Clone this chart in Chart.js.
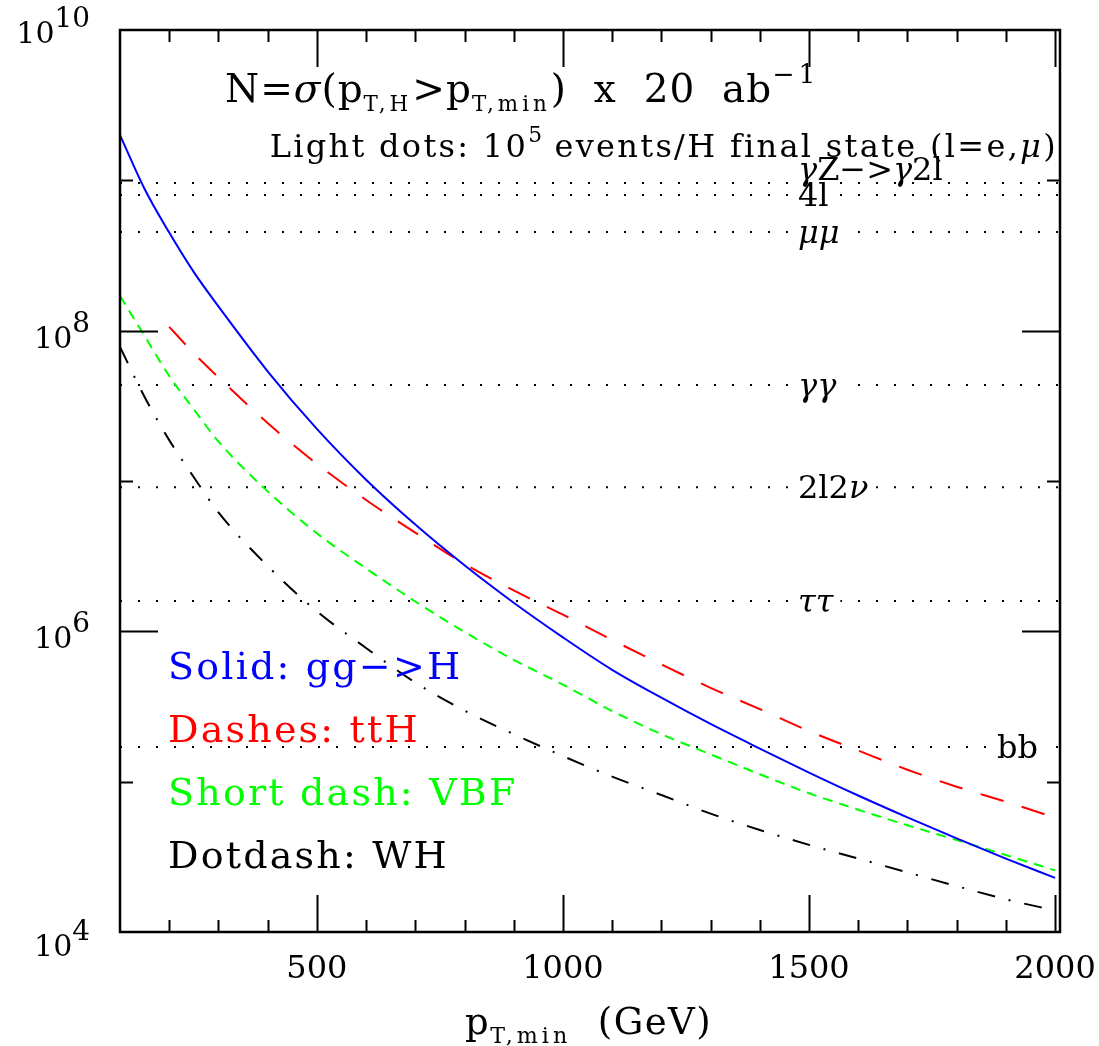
<!DOCTYPE html>
<html>
<head>
<meta charset="utf-8">
<title>Higgs pT,min event counts</title>
<script src="https://cdn.jsdelivr.net/npm/chart.js@4.4.1/dist/chart.umd.min.js"></script>
<style>
  html, body { margin: 0; padding: 0; background: #fff; }
  canvas { display: block; }
</style>
</head>
<body>
<canvas id="chart" width="1099" height="1046"></canvas>
<script>
// pT,min grid (GeV)
const ptMin = [100, 150, 200, 250, 300, 400, 500, 600, 700, 800, 900, 1000,
               1100, 1200, 1300, 1400, 1500, 1600, 1700, 1800, 1900, 2000];

// N = sigma(pT,H > pT,min) x 20 ab^-1
const ggH = [2.00e9, 8.75e8, 4.49e8, 2.45e8, 1.45e8, 5.37e7, 2.22e7, 1.02e7, 5.13e6, 2.75e6, 1.55e6,
             9.12e5, 5.55e5, 3.62e5, 2.42e5, 1.66e5, 1.15e5, 8.09e4, 5.79e4, 4.20e4, 3.08e4, 2.29e4];
const ttH = [null, null, 1.06e8, 7.07e7, 4.89e7, 2.43e7, 1.30e7, 7.48e6, 4.53e6, 2.81e6, 1.87e6,
             1.29e6, 8.76e5, 6.03e5, 4.21e5, 3.04e5, 2.17e5, 1.61e5, 1.20e5, 9.26e4, 7.35e4, 5.76e4];
const vbf = [1.70e8, 9.22e7, 5.00e7, 3.00e7, 1.83e7, 8.53e6, 4.49e6, 2.62e6, 1.58e6, 9.90e5, 6.47e5,
             4.42e5, 2.95e5, 2.07e5, 1.52e5, 1.12e5, 8.38e4, 6.51e4, 5.13e4, 4.09e4, 3.25e4, 2.57e4];
const wh  = [7.79e7, 3.62e7, 1.87e7, 1.06e7, 6.18e6, 2.72e6, 1.36e6, 7.75e5, 4.57e5, 2.97e5, 2.07e5,
             1.48e5, 1.08e5, 8.15e4, 6.13e4, 4.77e4, 3.80e4, 3.08e4, 2.49e4, 2.02e4, 1.65e4, 1.39e4];

// 10^5 events / BR for each final state
const levelNames  = ['γZ−>γ2l', '4l', 'μμ', 'γγ', '2l2ν', 'ττ', 'bb'];
const levelValues = [9.6e8, 8.0e8, 4.53e8, 4.35e7, 9.1e6, 1.59e6, 1.70e5];

const xTicks = [500, 1000, 1500, 2000];
const yTickExps = [4, 6, 8, 10];

const legendLines = ['Solid: gg−>H', 'Dashes: ttH', 'Short dash: VBF', 'Dotdash: WH'];
const legendColors = ['#0000ff', '#ff0000', '#00ff00', '#000000'];

const SERIF = '"DejaVu Serif", "Liberation Serif", serif';

// split plain text into roman / italic-greek runs
const expand = (parts) => {
    const out = [];
    parts.forEach(([t, kind]) => {
        if (kind === 'sub' || kind === 'sup') { out.push([t, kind]); return; }
        let cur = '', curIt = null;
        for (const ch of t) {
            const it = /[\u0370-\u03ff]/.test(ch);
            if (curIt !== null && it !== curIt) { out.push([cur, curIt ? 'i' : 'r']); cur = ''; }
            cur += ch; curIt = it;
        }
        if (cur) out.push([cur, curIt ? 'i' : 'r']);
    });
    return out;
};

const drawRich = (ctx, parts, x, y, size, color, opts = {}) => {
    const subScale = opts.subScale || 0.68, supScale = opts.supScale || 0.68;
    const supRise = opts.supRise != null ? opts.supRise : size * 0.45;
    const subDrop = opts.subDrop != null ? opts.subDrop : size * 0.28;
    const spacing = opts.spacing || 0;
    const subSpacing = opts.subSpacing != null ? opts.subSpacing : spacing;
    const segs = expand(parts).map(([t, kind]) => {
        let font, dy = 0, sp = spacing;
        if (kind === 'sub') { font = `${size * subScale}px ${SERIF}`; dy = subDrop; sp = subSpacing; }
        else if (kind === 'sup') { font = `${size * supScale}px ${SERIF}`; dy = -supRise; sp = subSpacing; }
        else if (kind === 'i') font = `italic ${size}px ${SERIF}`;
        else font = `${size}px ${SERIF}`;
        return { t, font, dy, sp };
    });
    ctx.save();
    let total = 0;
    segs.forEach(s => {
        ctx.font = s.font; ctx.letterSpacing = s.sp + 'px';
        s.w = ctx.measureText(s.t).width; total += s.w;
    });
    let cx = x;
    if (opts.align === 'right') cx = x - total;
    else if (opts.align === 'center') cx = x - total / 2;
    ctx.fillStyle = color;
    ctx.textBaseline = 'alphabetic';
    ctx.textAlign = 'left';
    segs.forEach(s => {
        ctx.font = s.font; ctx.letterSpacing = s.sp + 'px';
        ctx.fillText(s.t, cx, y + s.dy); cx += s.w;
    });
    ctx.restore();
    return total;
};

const decorations = {
    id: 'decorations',
    afterDatasetsDraw(chart) {
        const { ctx, chartArea: a, scales: { x, y } } = chart;
        ctx.save();

        // final-state labels on the dotted lines, with a white gap behind them
        const labelSize = 32;
        const boxes = levelNames.map((name, i) => {
            const py = y.getPixelForValue(levelValues[i]);
            const lx = name === 'bb' ? 997 : 798;
            const dy = i === 0 ? -3 : 11;
            return { name, py, lx, dy };
        });
        ctx.font = `${labelSize}px ${SERIF}`;
        boxes.forEach((b, i) => {
            if (i === 0) return;
            const w = ctx.measureText(b.name).width;
            ctx.fillStyle = '#fff';
            ctx.fillRect(b.lx - 7, b.py - 4, w + 14, 8);
        });
        boxes.forEach(b => drawRich(ctx, [[b.name, 'r']], b.lx, b.py + b.dy, labelSize, '#000'));

        // frame
        ctx.strokeStyle = '#000';
        ctx.lineWidth = 2.5;
        ctx.strokeRect(a.left, a.top, a.right - a.left, a.bottom - a.top);

        // x ticks (bottom and top)
        ctx.lineWidth = 2;
        for (let v = 200; v <= 2000; v += 100) {
            const px = Math.round(x.getPixelForValue(v)) + 0.5;
            const len = v % 500 === 0 ? 37 : 12;
            ctx.beginPath();
            ctx.moveTo(px, a.bottom); ctx.lineTo(px, a.bottom - len);
            ctx.moveTo(px, a.top); ctx.lineTo(px, a.top + len);
            ctx.stroke();
        }
        // y ticks (left and right)
        for (let e = 5; e <= 9; e++) {
            const py = Math.round(y.getPixelForValue(10 ** e)) + 0.5;
            const len = e % 2 === 0 ? 38 : 13;
            ctx.beginPath();
            ctx.moveTo(a.left, py); ctx.lineTo(a.left + len, py);
            ctx.moveTo(a.right, py); ctx.lineTo(a.right - len, py);
            ctx.stroke();
        }

        // tick labels
        xTicks.forEach(v => {
            drawRich(ctx, [[String(v), 'r']], x.getPixelForValue(v), 978, 32, '#000', { align: 'center' });
        });
        yTickExps.forEach(e => {
            const py = y.getPixelForValue(10 ** e);
            const shift = e === 4 ? 24 : e === 10 ? 13 : 17;
            drawRich(ctx, [['10', 'r'], [String(e), 'sup']], 90, py + shift, 30, '#000',
                { align: 'right', supScale: 0.93, supRise: 16 });
        });

        // axis title
        drawRich(ctx, [['p', 'r'], ['T,min', 'sub'], ['  (GeV)', 'r']], 465, 1034, 37, '#000',
            { spacing: 1.5, subScale: 0.6, subSpacing: 4, subDrop: 9 });

        // header text
        drawRich(ctx, [['N=σ(p', 'r'], ['T,H', 'sub'], ['>p', 'r'], ['T,min', 'sub'], [')  x  20  ab', 'r'], ['−1', 'sup']],
            225, 102, 39, '#000', { spacing: 1, subScale: 0.55, subSpacing: 4, subDrop: 9, supScale: 0.68, supRise: 19 });
        drawRich(ctx, [['Light dots: 10', 'r'], ['5', 'sup'], [' events/H final state (l=e,μ)', 'r']],
            1058, 157, 32, '#000', { align: 'right', spacing: 2.3, subSpacing: 0, supRise: 15 });

        // line-style legend
        legendLines.forEach((t, i) => {
            drawRich(ctx, [[t, 'r']], 168, 679 + i * 63, 38, legendColors[i], { spacing: 2.2 });
        });

        ctx.restore();
    }
};

const curve = (label, values, color, dash) => ({
    label,
    data: ptMin.map((p, i) => ({ x: p, y: values[i] })),
    borderColor: color,
    borderWidth: 2,
    borderDash: dash,
    pointRadius: 0,
    fill: false,
    spanGaps: false,
    cubicInterpolationMode: 'monotone'
});

const levelSets = levelValues.map((v, i) => ({
    label: levelNames[i],
    data: [{ x: 100, y: v }, { x: 2010, y: v }],
    borderColor: '#000',
    borderWidth: 2,
    borderDash: [2, 16],
    pointRadius: 0,
    fill: false
}));

new Chart(document.getElementById('chart'), {
    type: 'line',
    data: {
        datasets: [
            curve('gg->H', ggH, '#0000ff', []),
            curve('ttH', ttH, '#ff0000', [24, 19]),
            curve('VBF', vbf, '#00ff00', [10, 7]),
            curve('WH', wh, '#000000', [18, 14, 2, 14]),
            ...levelSets
        ]
    },
    options: {
        responsive: false,
        animation: false,
        devicePixelRatio: 1,
        layout: { padding: { top: 30, right: 39, left: 0, bottom: 0 } },
        plugins: { legend: { display: false }, tooltip: { enabled: false } },
        scales: {
            x: {
                type: 'linear', min: 100, max: 2010,
                grid: { display: false }, border: { display: false },
                ticks: { display: false },
                afterFit: (s) => { s.height = 114; }
            },
            y: {
                type: 'logarithmic', min: 1e4, max: 1e10,
                grid: { display: false }, border: { display: false },
                ticks: { display: false },
                afterFit: (s) => { s.width = 120; }
            }
        }
    },
    plugins: [decorations]
});
</script>
</body>
</html>
